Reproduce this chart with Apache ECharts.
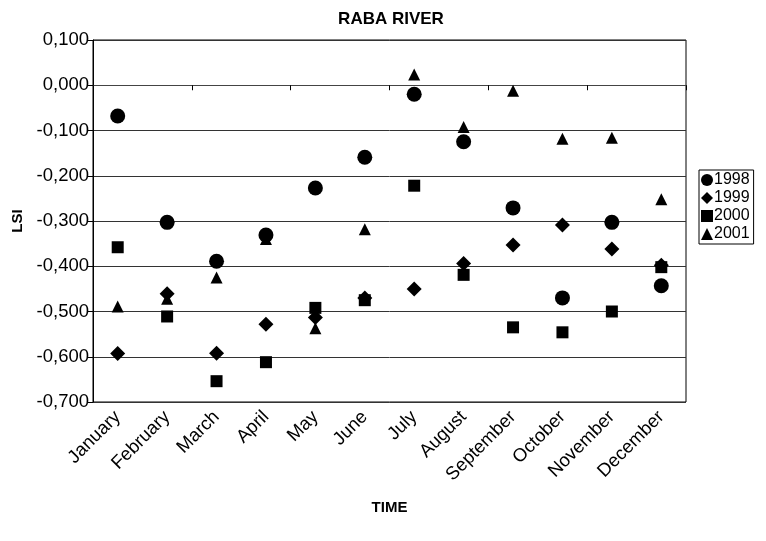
<!DOCTYPE html>
<html>
<head>
<meta charset="utf-8">
<script src="https://cdn.jsdelivr.net/npm/echarts@6/dist/echarts.min.js"></script>
<style>html,body{margin:0;padding:0;background:#fff;}#c{width:766px;height:541px;}</style>
</head>
<body>
<div id="c"></div>
<script>
const months = ['January','February','March','April','May','June','July','August','September','October','November','December'];
const s1998 = [-0.068, -0.303, -0.389, -0.331, -0.227, -0.159, -0.020, -0.125, -0.271, -0.470, -0.303, -0.443];
const s1999 = [-0.593, -0.461, -0.592, -0.528, -0.513, -0.470, -0.450, -0.394, -0.353, -0.309, -0.362, -0.398];
const s2000 = [-0.358, -0.511, -0.654, -0.612, -0.492, -0.475, -0.222, -0.419, -0.535, -0.546, -0.500, -0.402];
const s2001 = [-0.489, -0.472, -0.425, -0.340, -0.537, -0.318, 0.024, -0.092, -0.012, -0.118, -0.116, -0.252];
const yMin = -0.7, yMax = 0.1, yStep = 0.1;

const FONT = 'Liberation Sans, Arial, sans-serif';
const chart = echarts.init(document.getElementById('c'));
const mk = (name, data, symbol, size) => ({
  name, type: 'scatter', data, symbol, symbolSize: size,
  xAxisIndex: 0, yAxisIndex: 0,
  itemStyle: { color: '#000', opacity: 1 }
});
chart.setOption({
  animation: false,
  backgroundColor: '#fff',
  textStyle: { fontFamily: FONT },
  title: {
    text: 'RABA RIVER', left: 386, top: 6, textAlign: 'center',
    textStyle: { fontFamily: FONT, fontSize: 17, fontWeight: 'bold', color: '#000' }
  },
  grid: { left: 93, right: 80, top: 40, bottom: 139, containLabel: false,
    show: true, borderColor: '#000', borderWidth: 1, backgroundColor: 'transparent' },
  legend: {
    orient: 'vertical', left: 699, top: 170,
    data: ['1998','1999','2000','2001'],
    borderColor: '#000', borderWidth: 1, padding: [2, 4, 2, 2],
    itemWidth: 12, itemHeight: 12, itemGap: 2,
    textStyle: { fontFamily: FONT, fontSize: 16, color: '#000', padding: [0,0,0,-4] }
  },
  xAxis: [
    {
      type: 'category', data: months, position: 'bottom',
      axisLine: { onZero: true, lineStyle: { color: '#444', width: 1 } },
      axisTick: { show: true, inside: false, length: 5, lineStyle: { color: '#000' } },
      axisLabel: { show: false },
      splitLine: { show: false }
    },
    {
      type: 'category', data: months, position: 'bottom',
      axisLine: { show: false, onZero: false },
      axisTick: { show: false },
      axisLabel: { rotate: 45, margin: 12, fontSize: 18.5, color: '#000', fontFamily: FONT },
      name: 'TIME', nameLocation: 'middle', nameGap: 98,
      nameTextStyle: { fontFamily: FONT, fontSize: 15, fontWeight: 'bold', color: '#000' }
    }
  ],
  yAxis: {
    type: 'value', min: yMin, max: yMax, interval: yStep,
    axisLine: { show: true, lineStyle: { color: '#000', width: 1 } },
    axisTick: { show: true, inside: false, length: 5, lineStyle: { color: '#000' } },
    axisLabel: { fontSize: 18.5, color: '#000', fontFamily: FONT, margin: 4,
      formatter: v => (Math.abs(v) < 1e-9 ? 0 : v).toFixed(3).replace('.', ',') },
    splitLine: { show: true, lineStyle: { color: '#333', width: 1 } },
    name: 'LSI', nameLocation: 'middle', nameGap: 46, nameRotate: 90,
    nameTextStyle: { fontFamily: FONT, fontSize: 15, fontWeight: 'bold', color: '#000' }
  },
  series: [
    mk('1998', s1998, 'circle', 15),
    mk('1999', s1999, 'diamond', 15),
    mk('2000', s2000, 'rect', 12),
    mk('2001', s2001, 'triangle', 12)
  ]
});
</script>
</body>
</html>
